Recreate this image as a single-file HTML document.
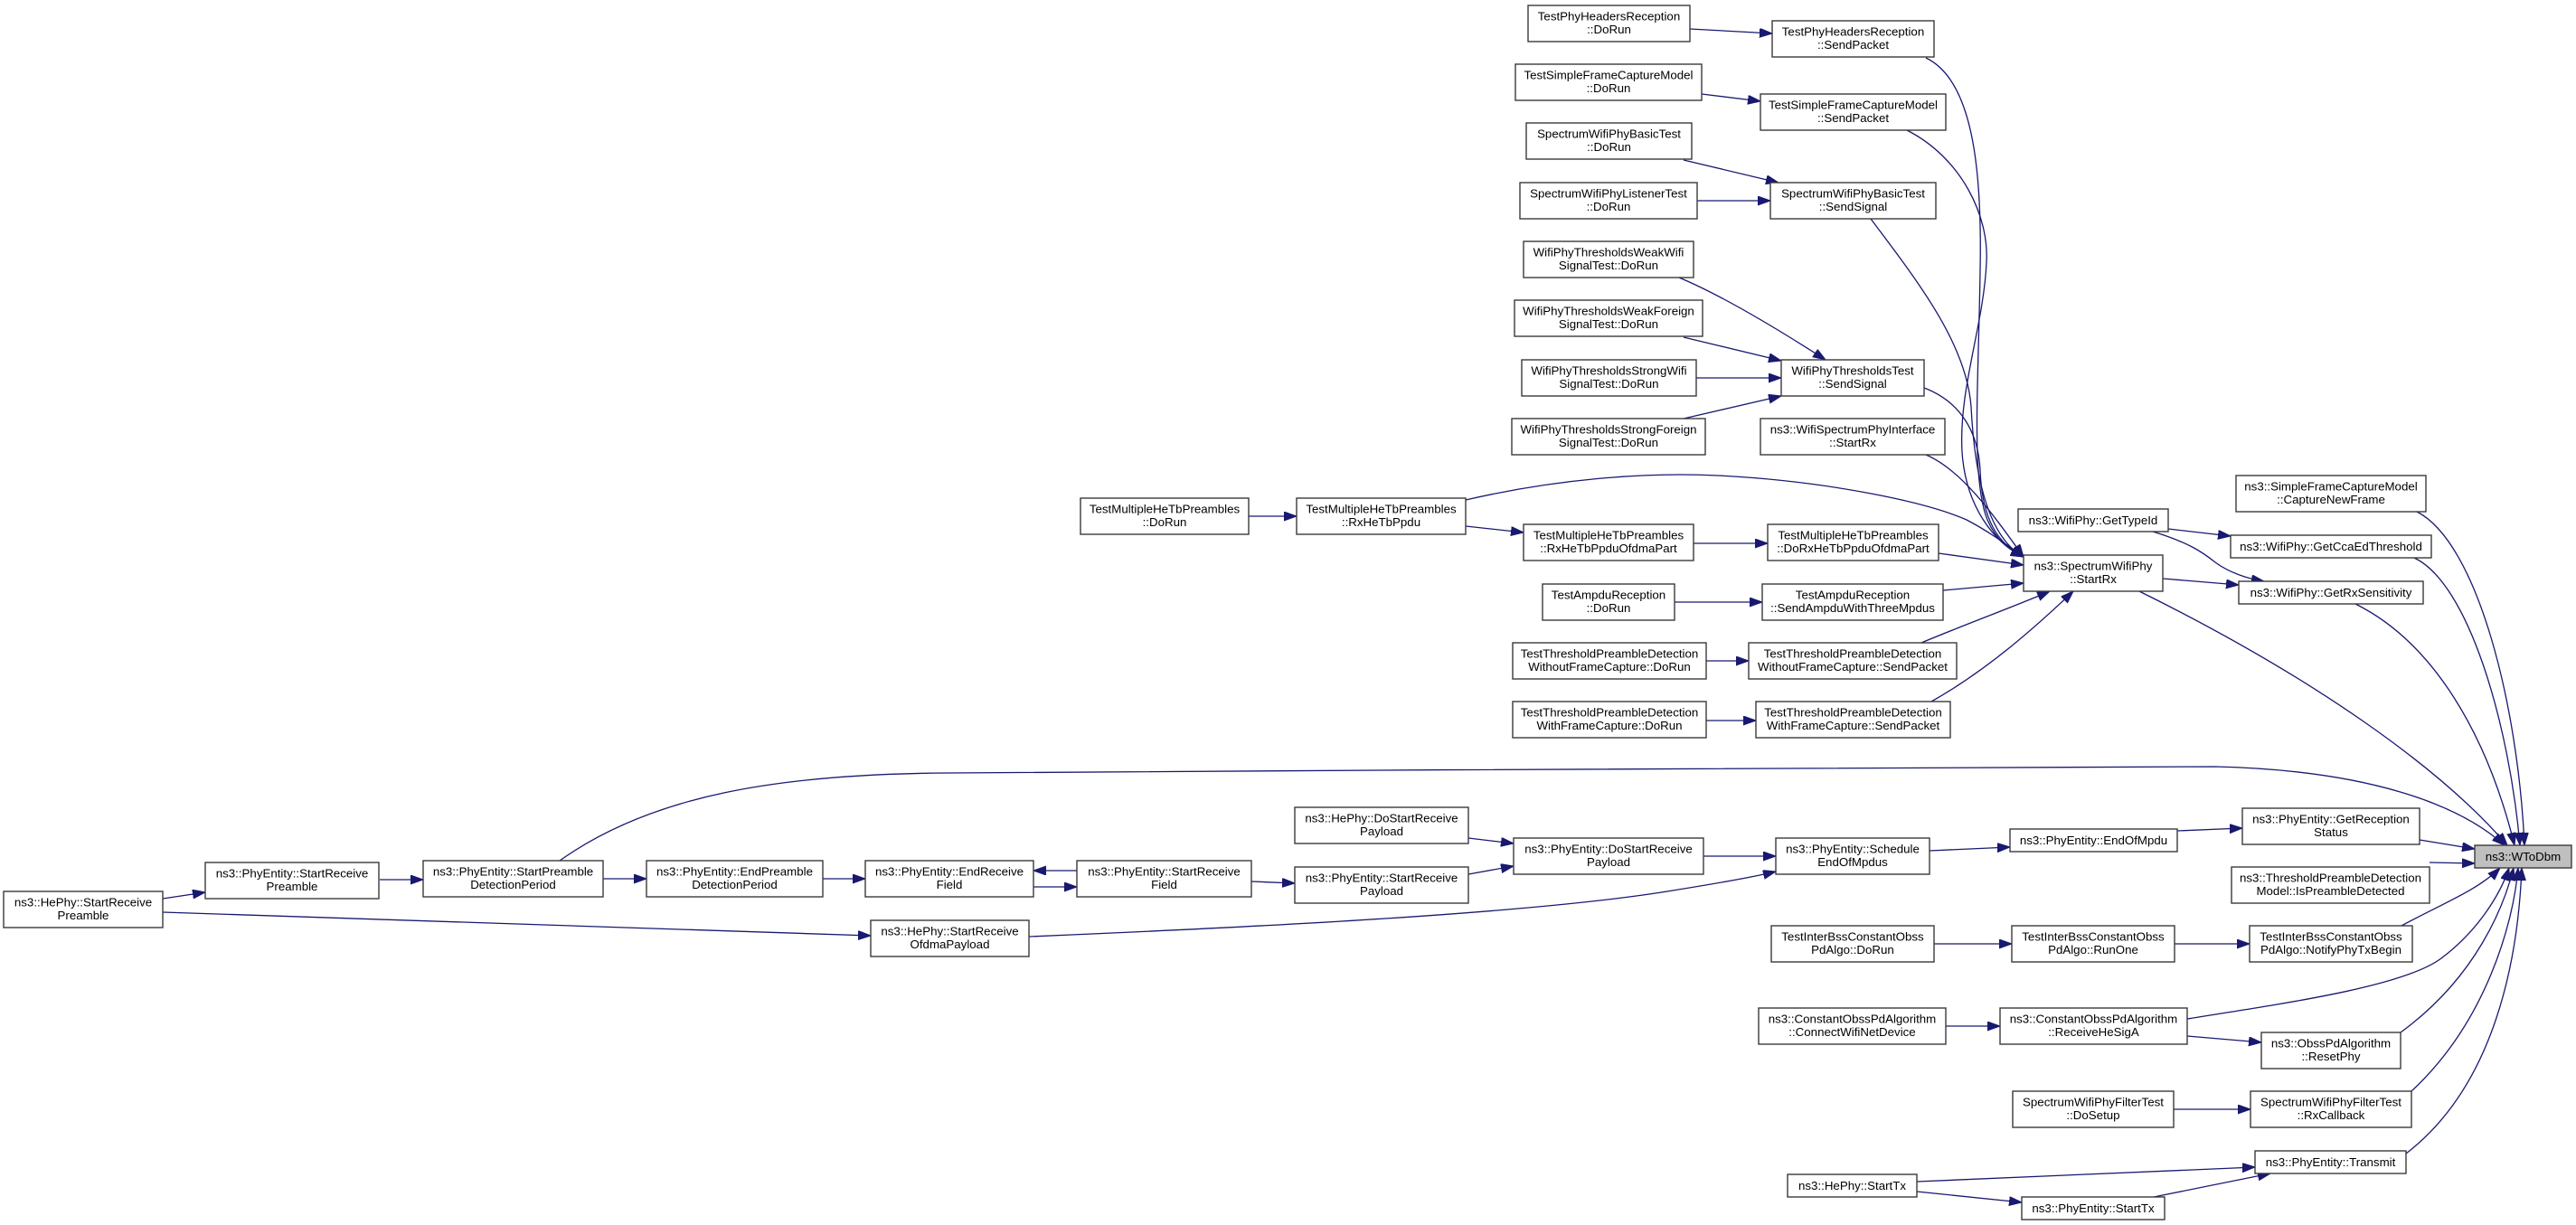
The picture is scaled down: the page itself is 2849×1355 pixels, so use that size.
<!DOCTYPE html>
<html><head><meta charset="utf-8"><style>
html,body{margin:0;padding:0;background:#fff;}
svg{display:block;}
text{font-family:"Liberation Sans",Arial,sans-serif;font-size:13.3px;fill:#000;text-anchor:middle;}
rect{fill:#fff;stroke:#3a3a3a;stroke-width:1.4;}
path.e{fill:none;stroke:#191970;stroke-width:1.3;marker-end:url(#a);}
</style></head><body>
<svg width="2849" height="1355" viewBox="0 0 2849 1355" xmlns="http://www.w3.org/2000/svg">
<defs><marker id="a" markerUnits="userSpaceOnUse" markerWidth="16" markerHeight="12" refX="14" refY="5" orient="auto"><path d="M0,0 L14,5 L0,10 z" fill="#191970" stroke="#191970" stroke-width="1"/></marker></defs>
<rect x="0" y="0" width="2849" height="1355" style="fill:#fff;stroke:none"/>

<!-- edges -->
<path class="e" d="M1869,32 L1960,37"/>
<path class="e" d="M1882,104 L1947,112"/>
<path class="e" d="M1862,177 L1967,202"/>
<path class="e" d="M1877,222 L1958,222"/>
<path class="e" d="M1857,307 C1900,325 1960,360 2019,398"/>
<path class="e" d="M1862,373 L1970,399"/>
<path class="e" d="M1876,418 L1970,418"/>
<path class="e" d="M1862,463 L1970,438"/>
<path class="e" d="M1381,571 L1434,571"/>
<path class="e" d="M1621,582 L1685,589"/>
<path class="e" d="M1873,601 L1955,601"/>
<path class="e" d="M1852,666 L1949,666"/>
<path class="e" d="M1887,731 L1934,731"/>
<path class="e" d="M1887,797 L1942,797"/>
<path class="e" d="M1621,553 C1720,530 1820,522 1900,526 C2020,532 2130,555 2175,575 C2200,588 2220,603 2238,616"/>
<path class="e" d="M2144,612 L2238,625"/>
<path class="e" d="M2149,653 L2238,645"/>
<path class="e" d="M2125,711 C2170,692 2230,670 2267,654"/>
<path class="e" d="M2136,776 C2200,740 2255,690 2293,654"/>
<path class="e" d="M2130,64 C2185,90 2192,200 2190,300 C2188,430 2180,530 2198,575 C2208,598 2222,608 2238,616"/>
<path class="e" d="M2109,144 C2170,175 2200,240 2197,290 C2194,360 2166,430 2170,500 C2174,560 2205,600 2238,616"/>
<path class="e" d="M2069,242 C2120,310 2175,380 2180,450 C2184,530 2200,595 2238,616"/>
<path class="e" d="M2128,429 C2170,445 2188,480 2190,520 C2192,575 2210,602 2238,616"/>
<path class="e" d="M2130,503 C2170,520 2205,570 2238,616"/>
<path class="e" d="M2398,585 L2467,593"/>
<path class="e" d="M2381,588 C2420,600 2435,610 2450,622 C2465,633 2485,640 2504,643"/>
<path class="e" d="M2392,640 L2476,647"/>
<path class="e" d="M2366,654 C2560,750 2700,850 2773,935"/>
<path class="e" d="M2673,566 C2740,600 2785,780 2792,935"/>
<path class="e" d="M2670,617 C2730,645 2775,800 2787,935"/>
<path class="e" d="M2605,668 C2690,710 2750,810 2781,935"/>
<path class="e" d="M2676,929 L2737,939"/>
<path class="e" d="M2687,954 L2737,955"/>
<path class="e" d="M2656,1024 C2700,1000 2740,985 2765,960"/>
<path class="e" d="M2419,1127 C2540,1108 2660,1090 2700,1060 C2740,1030 2765,990 2775,960"/>
<path class="e" d="M2655,1142 C2740,1080 2770,1000 2780,960"/>
<path class="e" d="M2667,1207 C2750,1130 2780,1020 2785,960"/>
<path class="e" d="M2661,1276 C2760,1200 2785,1060 2789,960"/>
<path class="e" d="M1138,1036 C1400,1025 1700,1010 1850,985 C1900,977 1940,970 1964,964"/>
<path class="e" d="M1884,947 L1964,947"/>
<path class="e" d="M1624,927 L1674,933"/>
<path class="e" d="M1624,967 L1674,958"/>
<path class="e" d="M1384,975 L1432,977"/>
<path class="e" d="M1191,963 L1143,963"/>
<path class="e" d="M1143,981 L1191,981"/>
<path class="e" d="M910,972 L957,972"/>
<path class="e" d="M667,972 L715,972"/>
<path class="e" d="M420,973 L468,973"/>
<path class="e" d="M180,994 L227,987"/>
<path class="e" d="M180,1009 L963,1035"/>
<path class="e" d="M619,952 C720,880 860,856 1050,855 C1500,853 2200,846 2450,848 C2620,852 2720,890 2770,935"/>
<path class="e" d="M2134,941 L2223,937"/>
<path class="e" d="M2408,919 L2480,916"/>
<path class="e" d="M2139,1044 L2225,1044"/>
<path class="e" d="M2405,1044 L2488,1044"/>
<path class="e" d="M2152,1135 L2212,1135"/>
<path class="e" d="M2419,1146 L2501,1153"/>
<path class="e" d="M2404,1227 L2489,1227"/>
<path class="e" d="M2120,1307 L2494,1291"/>
<path class="e" d="M2120,1318 L2236,1330"/>
<path class="e" d="M2382,1324 L2511,1298"/>

<!-- nodes (two-line: baselines at top+16.5 / top+31; single-line: top+17) -->
<rect x="1690" y="6" width="179" height="40"/><text x="1779.5" y="22.5">TestPhyHeadersReception</text><text x="1779.5" y="37">::DoRun</text>
<rect x="1960" y="23" width="179" height="40"/><text x="2049.5" y="39.5">TestPhyHeadersReception</text><text x="2049.5" y="54">::SendPacket</text>
<rect x="1676" y="71" width="206" height="40"/><text x="1779" y="87.5">TestSimpleFrameCaptureModel</text><text x="1779" y="102">::DoRun</text>
<rect x="1947" y="104" width="205" height="40"/><text x="2049.5" y="120.5">TestSimpleFrameCaptureModel</text><text x="2049.5" y="135">::SendPacket</text>
<rect x="1688" y="136" width="183" height="40"/><text x="1779.5" y="152.5">SpectrumWifiPhyBasicTest</text><text x="1779.5" y="167">::DoRun</text>
<rect x="1681" y="202" width="196" height="40"/><text x="1779" y="218.5">SpectrumWifiPhyListenerTest</text><text x="1779" y="233">::DoRun</text>
<rect x="1958" y="202" width="183" height="40"/><text x="2049.5" y="218.5">SpectrumWifiPhyBasicTest</text><text x="2049.5" y="233">::SendSignal</text>
<rect x="1685" y="267" width="188" height="40"/><text x="1779" y="283.5">WifiPhyThresholdsWeakWifi</text><text x="1779" y="298">SignalTest::DoRun</text>
<rect x="1675" y="332" width="208" height="40"/><text x="1779" y="348.5">WifiPhyThresholdsWeakForeign</text><text x="1779" y="363">SignalTest::DoRun</text>
<rect x="1683" y="398" width="193" height="40"/><text x="1779.5" y="414.5">WifiPhyThresholdsStrongWifi</text><text x="1779.5" y="429">SignalTest::DoRun</text>
<rect x="1672" y="463" width="214" height="40"/><text x="1779" y="479.5">WifiPhyThresholdsStrongForeign</text><text x="1779" y="494">SignalTest::DoRun</text>
<rect x="1970" y="398" width="158" height="40"/><text x="2049" y="414.5">WifiPhyThresholdsTest</text><text x="2049" y="429">::SendSignal</text>
<rect x="1947" y="463" width="204" height="40"/><text x="2049" y="479.5">ns3::WifiSpectrumPhyInterface</text><text x="2049" y="494">::StartRx</text>
<rect x="1195" y="551" width="186" height="40"/><text x="1288" y="567.5">TestMultipleHeTbPreambles</text><text x="1288" y="582">::DoRun</text>
<rect x="1434" y="551" width="187" height="40"/><text x="1527.5" y="567.5">TestMultipleHeTbPreambles</text><text x="1527.5" y="582">::RxHeTbPpdu</text>
<rect x="1685" y="580" width="188" height="40"/><text x="1779" y="596.5">TestMultipleHeTbPreambles</text><text x="1779" y="611">::RxHeTbPpduOfdmaPart</text>
<rect x="1955" y="580" width="189" height="40"/><text x="2049.5" y="596.5">TestMultipleHeTbPreambles</text><text x="2049.5" y="611">::DoRxHeTbPpduOfdmaPart</text>
<rect x="1706" y="646" width="146" height="40"/><text x="1779" y="662.5">TestAmpduReception</text><text x="1779" y="677">::DoRun</text>
<rect x="1949" y="646" width="200" height="40"/><text x="2049" y="662.5">TestAmpduReception</text><text x="2049" y="677">::SendAmpduWithThreeMpdus</text>
<rect x="1673" y="711" width="214" height="40"/><text x="1780" y="727.5">TestThresholdPreambleDetection</text><text x="1780" y="742">WithoutFrameCapture::DoRun</text>
<rect x="1934" y="711" width="230" height="40"/><text x="2049" y="727.5">TestThresholdPreambleDetection</text><text x="2049" y="742">WithoutFrameCapture::SendPacket</text>
<rect x="1673" y="776" width="214" height="40"/><text x="1780" y="792.5">TestThresholdPreambleDetection</text><text x="1780" y="807">WithFrameCapture::DoRun</text>
<rect x="1942" y="776" width="215" height="40"/><text x="2049.5" y="792.5">TestThresholdPreambleDetection</text><text x="2049.5" y="807">WithFrameCapture::SendPacket</text>
<rect x="2238" y="614" width="154" height="40"/><text x="2315" y="630.5">ns3::SpectrumWifiPhy</text><text x="2315" y="645">::StartRx</text>
<rect x="2232" y="563" width="166" height="25"/><text x="2315" y="580">ns3::WifiPhy::GetTypeId</text>
<rect x="2473" y="526" width="210" height="40"/><text x="2578" y="542.5">ns3::SimpleFrameCaptureModel</text><text x="2578" y="557">::CaptureNewFrame</text>
<rect x="2467" y="592" width="222" height="25"/><text x="2578" y="609">ns3::WifiPhy::GetCcaEdThreshold</text>
<rect x="2476" y="643" width="204" height="25"/><text x="2578" y="660">ns3::WifiPhy::GetRxSensitivity</text>
<rect x="2480" y="894" width="196" height="40"/><text x="2578" y="910.5">ns3::PhyEntity::GetReception</text><text x="2578" y="925">Status</text>
<rect x="2737" y="935" width="107" height="25" style="fill:#bfbfbf"/><text x="2790.5" y="952">ns3::WToDbm</text>
<rect x="2468" y="959" width="219" height="40"/><text x="2577.5" y="975.5">ns3::ThresholdPreambleDetection</text><text x="2577.5" y="990">Model::IsPreambleDetected</text>
<rect x="2488" y="1024" width="180" height="40"/><text x="2578" y="1040.5">TestInterBssConstantObss</text><text x="2578" y="1055">PdAlgo::NotifyPhyTxBegin</text>
<rect x="2501" y="1142" width="154" height="40"/><text x="2578" y="1158.5">ns3::ObssPdAlgorithm</text><text x="2578" y="1173">::ResetPhy</text>
<rect x="2489" y="1207" width="178" height="40"/><text x="2578" y="1223.5">SpectrumWifiPhyFilterTest</text><text x="2578" y="1238">::RxCallback</text>
<rect x="2494" y="1273" width="167" height="25"/><text x="2577.5" y="1290">ns3::PhyEntity::Transmit</text>
<rect x="2223" y="917" width="185" height="25"/><text x="2315.5" y="934">ns3::PhyEntity::EndOfMpdu</text>
<rect x="1964" y="927" width="170" height="40"/><text x="2049" y="943.5">ns3::PhyEntity::Schedule</text><text x="2049" y="958">EndOfMpdus</text>
<rect x="1674" y="927" width="210" height="40"/><text x="1779" y="943.5">ns3::PhyEntity::DoStartReceive</text><text x="1779" y="958">Payload</text>
<rect x="1432" y="893" width="192" height="40"/><text x="1528" y="909.5">ns3::HePhy::DoStartReceive</text><text x="1528" y="924">Payload</text>
<rect x="1432" y="959" width="192" height="40"/><text x="1528" y="975.5">ns3::PhyEntity::StartReceive</text><text x="1528" y="990">Payload</text>
<rect x="1191" y="952" width="193" height="40"/><text x="1287.5" y="968.5">ns3::PhyEntity::StartReceive</text><text x="1287.5" y="983">Field</text>
<rect x="957" y="952" width="186" height="40"/><text x="1050" y="968.5">ns3::PhyEntity::EndReceive</text><text x="1050" y="983">Field</text>
<rect x="715" y="952" width="195" height="40"/><text x="812.5" y="968.5">ns3::PhyEntity::EndPreamble</text><text x="812.5" y="983">DetectionPeriod</text>
<rect x="468" y="952" width="199" height="40"/><text x="567.5" y="968.5">ns3::PhyEntity::StartPreamble</text><text x="567.5" y="983">DetectionPeriod</text>
<rect x="227" y="954" width="192" height="40"/><text x="323" y="970.5">ns3::PhyEntity::StartReceive</text><text x="323" y="985">Preamble</text>
<rect x="4" y="986" width="176" height="40"/><text x="92" y="1002.5">ns3::HePhy::StartReceive</text><text x="92" y="1017">Preamble</text>
<rect x="963" y="1018" width="175" height="40"/><text x="1050.5" y="1034.5">ns3::HePhy::StartReceive</text><text x="1050.5" y="1049">OfdmaPayload</text>
<rect x="1959" y="1024" width="180" height="40"/><text x="2049" y="1040.5">TestInterBssConstantObss</text><text x="2049" y="1055">PdAlgo::DoRun</text>
<rect x="2225" y="1024" width="180" height="40"/><text x="2315" y="1040.5">TestInterBssConstantObss</text><text x="2315" y="1055">PdAlgo::RunOne</text>
<rect x="1945" y="1115" width="207" height="40"/><text x="2048.5" y="1131.5">ns3::ConstantObssPdAlgorithm</text><text x="2048.5" y="1146">::ConnectWifiNetDevice</text>
<rect x="2212" y="1115" width="207" height="40"/><text x="2315.5" y="1131.5">ns3::ConstantObssPdAlgorithm</text><text x="2315.5" y="1146">::ReceiveHeSigA</text>
<rect x="2226" y="1207" width="178" height="40"/><text x="2315" y="1223.5">SpectrumWifiPhyFilterTest</text><text x="2315" y="1238">::DoSetup</text>
<rect x="1977" y="1299" width="143" height="25"/><text x="2048.5" y="1316">ns3::HePhy::StartTx</text>
<rect x="2236" y="1324" width="158" height="25"/><text x="2315" y="1341">ns3::PhyEntity::StartTx</text>
</svg>
</body></html>
